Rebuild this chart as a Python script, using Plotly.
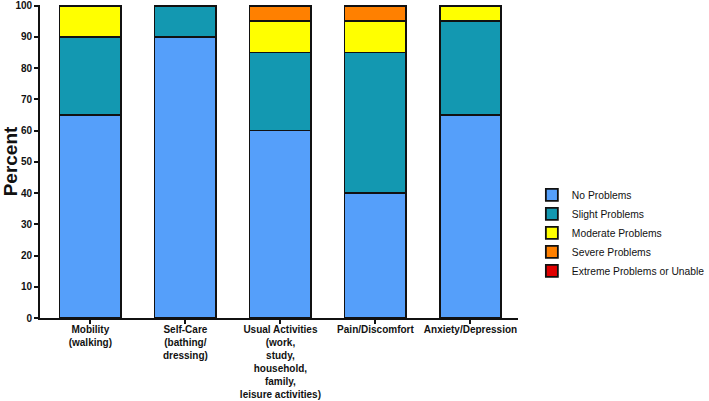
import plotly.graph_objects as go

categories = [
    "Mobility<br>(walking)",
    "Self-Care<br>(bathing/<br>dressing)",
    "Usual Activities<br>(work,<br>study,<br>household,<br>family,<br>leisure activities)",
    "Pain/Discomfort",
    "Anxiety/Depression",
]
series_names = ["No Problems", "Slight Problems", "Moderate Problems", "Severe Problems", "Extreme Problems or Unable"]
no_problems = [65, 90, 60, 40, 65]
slight_problems = [25, 10, 25, 45, 30]
moderate_problems = [10, 0, 10, 10, 5]
severe_problems = [0, 0, 5, 5, 0]
extreme_problems = [0, 0, 0, 0, 0]
y_ticks = list(range(0, 101, 10))
colors = ["#559FFA", "#1398B1", "#FFFF00", "#FF8000", "#E00000"]

values = [no_problems, slight_problems, moderate_problems, severe_problems, extreme_problems]

fig = go.Figure()
for name, vals, col in zip(series_names, values, colors):
    fig.add_trace(go.Bar(
        x=list(range(len(categories))), y=vals, name=name,
        marker=dict(color=col, line=dict(color="#111111", width=1.8)),
        width=0.65,
    ))

fig.update_layout(
    barmode="stack",
    width=709, height=401,
    margin=dict(l=40, r=191, t=5, b=83, autoexpand=False),
    plot_bgcolor="white", paper_bgcolor="white",
    font=dict(family="Liberation Sans, Arial", color="#111111"),
    legend=dict(
        traceorder="normal",
        x=1.029, xanchor="left", y=0.44, yanchor="top",
        font=dict(size=10.3, color="#111111"),
        itemwidth=30, tracegroupgap=0,
    ),
    xaxis=dict(
        range=[-0.53, 4.5], automargin=False,
        tickmode="array", tickvals=list(range(len(categories))),
        ticktext=["<b>" + c.replace("<br>", "</b><br><b>") + "</b>" for c in categories],
        tickangle=0, ticklabelstandoff=-3,
        showline=True, linecolor="#111111", linewidth=1.8,
        ticks="outside", ticklen=4, tickcolor="#111111", tickwidth=1.5,
        tickfont=dict(size=10),
        showgrid=False, zeroline=False,
    ),
    yaxis=dict(
        range=[0, 100.2], automargin=False,
        tickmode="array", tickvals=y_ticks, ticktext=["<b>%d</b>" % v for v in y_ticks],
        showline=True, linecolor="#111111", linewidth=1.8,
        ticks="outside", ticklen=4, tickcolor="#111111", tickwidth=1.5,
        tickfont=dict(size=10),
        showgrid=False, zeroline=False,
        title=dict(text="<b>Percent</b>", font=dict(size=19), standoff=6),
    ),
)

fig.write_html("out.html", config={"displayModeBar": False},
               post_script="document.body.style.margin='0';")
